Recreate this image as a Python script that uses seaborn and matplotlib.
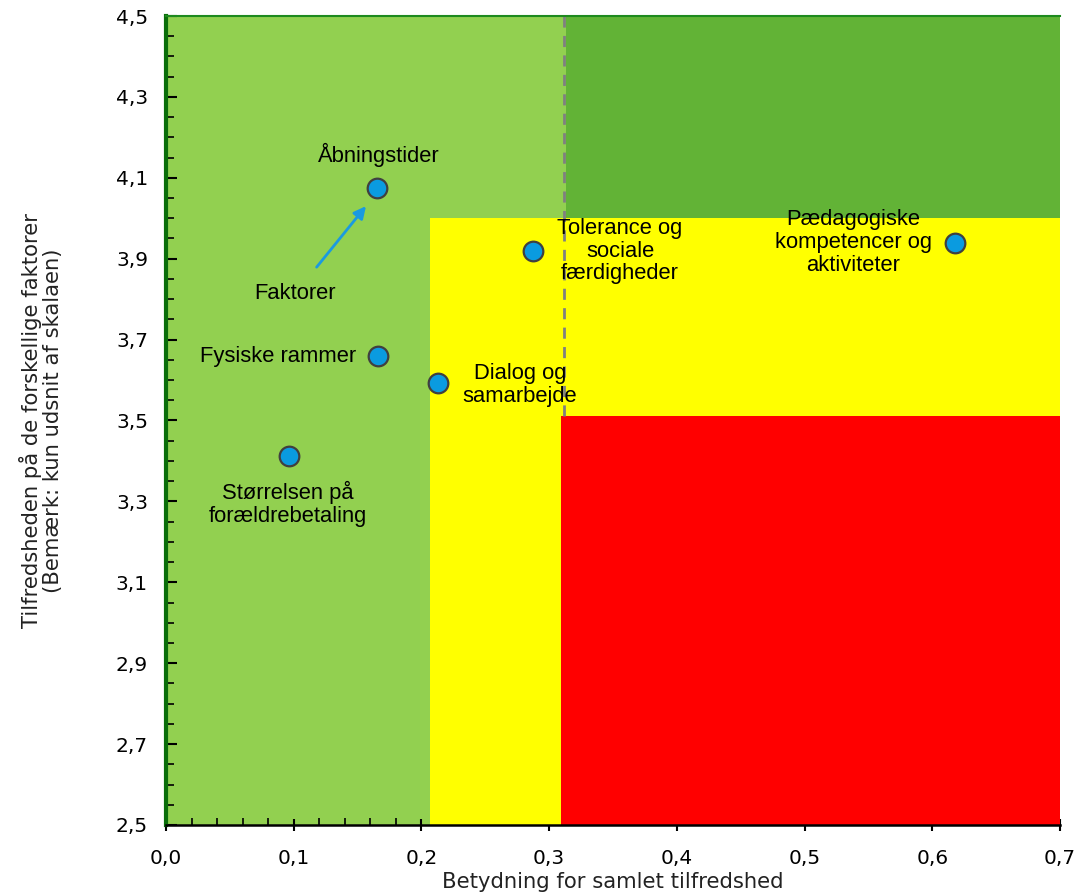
import matplotlib
matplotlib.use("Agg")
import matplotlib.pyplot as plt
from matplotlib.ticker import MultipleLocator, FuncFormatter
import seaborn as sns
import pandas as pd

# ---- data ----
factors = ["Åbningstider", "Tolerance og\nsociale\nfærdigheder",
           "Pædagogiske\nkompetencer og\naktiviteter", "Fysiske rammer",
           "Dialog og\nsamarbejde", "Størrelsen på\nforældrebetaling"]
importance = [0.165, 0.287, 0.618, 0.166, 0.213, 0.096]
satisfaction = [4.075, 3.92, 3.939, 3.66, 3.593, 3.412]

# label positions (data coords) and alignment
label_x = [0.1668, 0.3555, 0.538, 0.1488, 0.277, 0.0955]
label_y = [4.156, 3.919, 3.94, 3.659, 3.588, 3.294]
label_ha = ["center", "center", "center", "right", "center", "center"]

# zone boundaries
x_min, x_max = 0.0, 0.7
y_min, y_max = 2.5, 4.5
x_low = 0.207
x_mid = 0.309
x_mid_top = 0.313
x_dash = 0.3115
y_mid = 3.51
y_high = 4.0

x_label = "Betydning for samlet tilfredshed"
y_label = "Tilfredsheden på de forskellige faktorer\n(Bemærk: kun udsnit af skalaen)"

df = pd.DataFrame({"factor": factors, "x": importance, "y": satisfaction})

sns.set_theme(style="white")
plt.rcParams["font.family"] = ["DejaVu Sans"]

fig = plt.figure(figsize=(10.91, 8.93), dpi=100)
ax = fig.add_axes([166 / 1091, 1 - 825 / 893, (1060 - 166) / 1091, (825 - 16) / 893])

light_green = "#92D050"
dark_green = "#62B336"
yellow = "#FFFF00"
red = "#FF0000"

# background zones
ax.fill_between([x_min, x_max], y_min, y_max, color=light_green, lw=0, zorder=0)
ax.fill_between([x_mid_top, x_max], y_high, y_max, color=dark_green, lw=0, zorder=0.5)
ax.fill_between([x_low, x_max], y_min, y_high, color=yellow, lw=0, zorder=0.6)
ax.fill_between([x_mid, x_max], y_min, y_mid, color=red, lw=0, zorder=0.7)
ax.plot([x_dash, x_dash], [y_mid, y_max], color="#808080", lw=2,
        linestyle=(0, (4, 3)), zorder=1)

sns.scatterplot(data=df, x="x", y="y", ax=ax, s=200, color="#0A9BE0",
                edgecolor="#404040", linewidth=1.6, zorder=3, legend=False)

for t, lx, ly, ha in zip(factors, label_x, label_y, label_ha):
    ax.text(lx, ly, t, ha=ha, va="center", fontsize=15.8, family="Liberation Sans",
            color="black", multialignment="center", zorder=4, linespacing=1.1)

ax.annotate("Faktorer", xy=(0.1566, 4.030), xytext=(0.101, 3.813),
            ha="center", va="center", fontsize=15.8, family="Liberation Sans",
            color="black",
            arrowprops=dict(arrowstyle="-|>", color="#1A9AE0", lw=2,
                            mutation_scale=18, shrinkA=12, shrinkB=0),
            zorder=4)

ax.set_xlim(x_min, x_max)
ax.set_ylim(y_min, y_max)

ax.xaxis.set_major_locator(MultipleLocator(0.1))
ax.xaxis.set_minor_locator(MultipleLocator(0.02))
ax.yaxis.set_major_locator(MultipleLocator(0.2, offset=0.1))
ax.yaxis.set_minor_locator(MultipleLocator(0.05))
fmt = FuncFormatter(lambda v, p: f"{v:.1f}".replace(".", ","))
ax.xaxis.set_major_formatter(fmt)
ax.yaxis.set_major_formatter(fmt)

ax.tick_params(axis="x", which="major", direction="inout", length=9, width=1.5,
               color="black", labelsize=14.5, labelcolor="black", pad=13, bottom=True)
ax.tick_params(axis="x", which="minor", direction="in", length=5, width=1.2,
               color="black", bottom=True)
ax.tick_params(axis="y", which="major", direction="in", length=8, width=1.5,
               color="black", labelsize=14.5, labelcolor="black", pad=13, left=True)
ax.tick_params(axis="y", which="minor", direction="in", length=6, width=1.2,
               color="black", left=True)

ax.spines["right"].set_visible(False)
ax.spines["left"].set_color("#0A6E0A")
ax.spines["left"].set_linewidth(3)
ax.spines["top"].set_color("#1E8A1E")
ax.spines["top"].set_linewidth(1.5)
ax.spines["bottom"].set_color("black")
ax.spines["bottom"].set_linewidth(1.8)
for s in ax.spines.values():
    s.set_zorder(5)

ax.set_xlabel(x_label, fontsize=15.2, color="#222222")
ax.xaxis.set_label_coords(0.5, -0.058)
ax.set_ylabel(y_label, fontsize=15.2, color="#222222", linespacing=1.05)
ax.yaxis.set_label_coords(-0.115, 0.5)

fig.savefig("out.png", dpi=100)
